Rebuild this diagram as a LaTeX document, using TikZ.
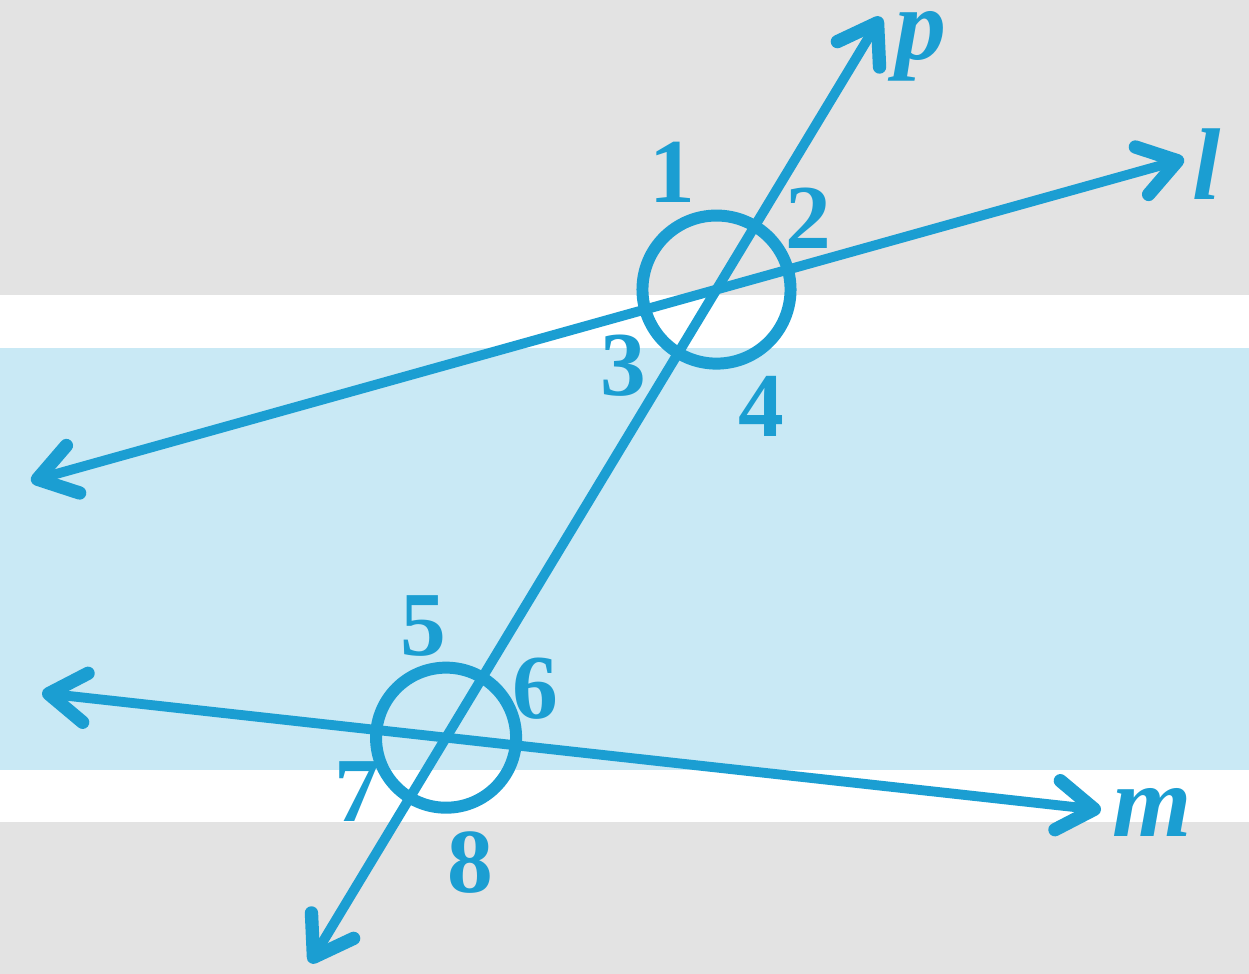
\documentclass[tikz,border=0pt]{standalone}
\usepackage{fontspec}
\setmainfont{Liberation Serif}
\usetikzlibrary{arrows.meta}

\definecolor{lineblue}{RGB}{27,158,210}
\definecolor{bggray}{RGB}{227,227,227}
\definecolor{bgblue}{RGB}{201,233,245}

\tikzset{
	barb/.tip={Straight Barb[length=10.5pt,width=14pt,line width=3.8pt,round]},
	transversal/.style={draw=lineblue,line width=2.8pt,barb-barb},
	anglemark/.style={draw=lineblue,line width=3.4pt},
	anglelabel/.style={text=lineblue,inner sep=0pt,font=\fontsize{26}{30}\selectfont\bfseries},
	linelabel/.style={text=lineblue,inner sep=0pt,font=\fontsize{29}{33}\selectfont\bfseries\itshape}
}

\begin{document}
\begin{tikzpicture}[x=0.01cm,y=-0.01cm]
			% background bands
			\useasboundingbox (0,0) rectangle (1249,974);
			\fill[bggray] (0,0) rectangle (1249,295);
			\fill[white] (0,295) rectangle (1249,348);
			\fill[bgblue] (0,348) rectangle (1249,770);
			\fill[white] (0,770) rectangle (1249,822);
			\fill[bggray] (0,822) rectangle (1249,974);
			
			\coordinate (Pt) at (881,17);
			\coordinate (Pb) at (310,963);
			\coordinate (Lr) at (1184,159);
			\coordinate (Ll) at (31,481);
			\coordinate (Mr) at (1101,810);
			\coordinate (Ml) at (42,693);
			\coordinate (O1) at (intersection of Pb--Pt and Ll--Lr);
			\coordinate (O2) at (intersection of Pb--Pt and Ml--Mr);
			
			\draw[anglemark] (O1) circle[radius=0.74cm];
			\draw[anglemark] (O2) circle[radius=0.70cm];
			
			\draw[transversal] (Ll)--(Lr);
			\draw[transversal] (Ml)--(Mr);
			\draw[transversal] (Pb)--(Pt);
			
			\node[linelabel] (p) at (921,46) {p};
			\node[linelabel] (l) at (1207,164) {l};
			\node[linelabel] (m) at (1152,812) {m};
			
			\node[anglelabel] (a1) at (672,172) {1};
			\node[anglelabel] (a2) at (808,218) {2};
			\node[anglelabel] (a3) at (623,366) {3};
			\node[anglelabel] (a4) at (761,406) {4};
			\node[anglelabel] (a5) at (423,626) {5};
			\node[anglelabel] (a6) at (535,689) {6};
			\node[anglelabel] (a7) at (357,792) {7};
			\node[anglelabel] (a8) at (470,863) {8};
		\end{tikzpicture}
\end{document}
